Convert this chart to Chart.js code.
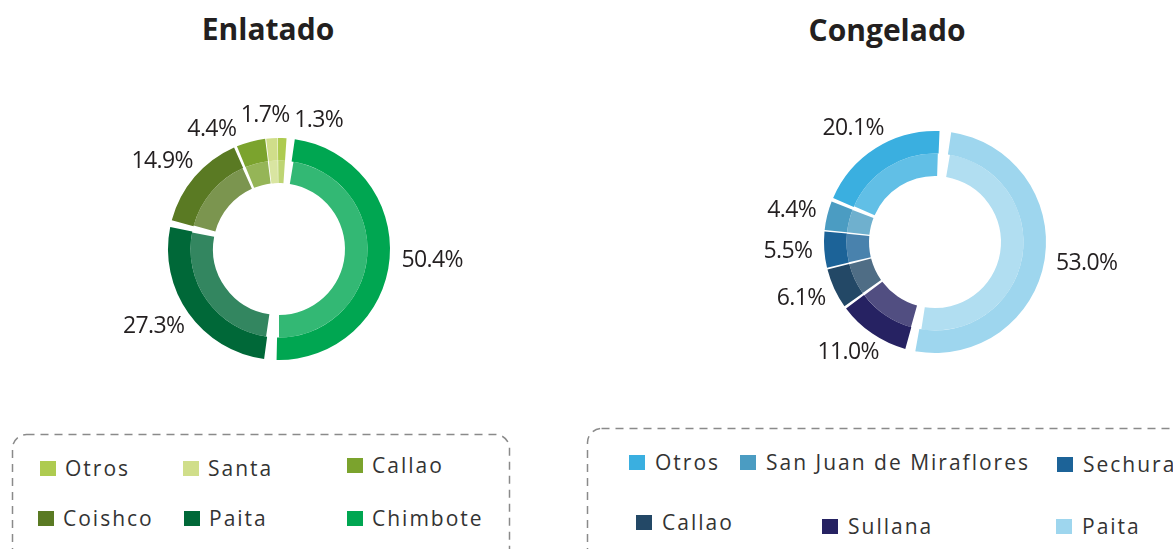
<!DOCTYPE html>
<html><head><meta charset="utf-8">
<script src="https://cdn.jsdelivr.net/npm/chart.js@4"></script>
<style>
html,body{margin:0;padding:0;background:#fff;}
body{width:1173px;height:549px;position:relative;overflow:hidden;font-family:"Open Sans",sans-serif;color:#231f20;}
.title{position:absolute;font-weight:700;font-size:30px;line-height:36px;transform:translateX(-50%);white-space:nowrap;color:#231f20;}
.cv{position:absolute;}
.box{position:absolute;left:0;top:0;}
.item{position:absolute;display:flex;align-items:center;white-space:nowrap;line-height:16px;height:16px;color:#333;font-size:21px;letter-spacing:2px;}
.item span{margin-left:9px}
.sw{width:16px;height:15px;flex:none;}
#legL .item:nth-child(1){left:40px;top:460px}
#legL .item:nth-child(2){left:183px;top:460px}
#legL .item:nth-child(3){left:347px;top:457px}
#legL .item:nth-child(4){left:38px;top:510px}
#legL .item:nth-child(5){left:184px;top:510px}
#legL .item:nth-child(6){left:347px;top:510px}
#legR .item:nth-child(1){left:629px;top:454px}
#legR .item:nth-child(2){left:740px;top:454px}
#legR .item:nth-child(3){left:1057px;top:456px}
#legR .item:nth-child(4){left:636px;top:514px}
#legR .item:nth-child(5){left:822px;top:518px}
#legR .item:nth-child(6){left:1056px;top:518px}
#legR .item span{margin-left:10px}
</style></head>
<body>
<div class="title" style="left:268px;top:11px">Enlatado</div>
<div class="title" style="left:887px;top:12px">Congelado</div>
<svg class="box" width="1173" height="549">
  <rect x="12.5" y="434.5" width="497" height="140" rx="14" ry="14" fill="none" stroke="#8a8a8a" stroke-width="1.5" stroke-dasharray="8 6"/>
  <rect x="587.5" y="428.5" width="640" height="140" rx="14" ry="14" fill="none" stroke="#8a8a8a" stroke-width="1.5" stroke-dasharray="8 6"/>
</svg>
<canvas id="cL" class="cv" width="460" height="360" style="left:49px;top:69px;width:460px;height:360px"></canvas>
<canvas id="cR" class="cv" width="460" height="360" style="left:705px;top:62px;width:460px;height:360px"></canvas>
<div id="legL"></div>
<div id="legR"></div>
<script>
// ---- Data (legend order) ----
const enlatadoCategories = ["Otros", "Santa", "Callao", "Coishco", "Paita", "Chimbote"];
const enlatadoValues = [1.3, 1.7, 4.4, 14.9, 27.3, 50.4];
const enlatadoColors = ["#AECB50", "#D0DE8A", "#7BA32D", "#5A7A23", "#006838", "#00A651"];

const congeladoCategories = ["Otros", "San Juan de Miraflores", "Sechura", "Callao", "Sullana", "Paita"];
const congeladoValues = [20.1, 4.4, 5.5, 6.1, 11.0, 53.0];
const congeladoColors = ["#3AAFE0", "#4B9CC2", "#1C6398", "#234866", "#262262", "#9ED6EE"];

const GAP = 9;          // pixel gap between slices
const OUTER_R = 111;    // visible outer radius
const INNER_R = 66;     // visible hole radius

function mix(hex, t) {
  const n = parseInt(hex.slice(1), 16);
  const r = n >> 16, g = (n >> 8) & 255, b = n & 255;
  const f = c => Math.round(c + (255 - c) * t);
  return `rgb(${f(r)},${f(g)},${f(b)})`;
}

const outLabels = {
  id: 'outLabels',
  afterDatasetsDraw(chart, args, opts) {
    const meta = chart.getDatasetMeta(0);
    const vals = chart.data.datasets[0].data;
    const ctx = chart.ctx;
    ctx.save();
    ctx.font = opts.font;
    if ('letterSpacing' in ctx) ctx.letterSpacing = opts.letterSpacing;
    ctx.fillStyle = opts.color;
    ctx.textAlign = 'center';
    ctx.textBaseline = 'middle';
    const items = meta.data.map((arc, i) => {
      const p = arc.getProps(['x', 'y', 'startAngle', 'endAngle', 'outerRadius'], true);
      const text = vals[i].toFixed(1) + '%';
      return { text, w: ctx.measureText(text).width, h: opts.lineHeight,
        a: (p.startAngle + p.endAngle) / 2, cx: p.x, cy: p.y, r: p.outerRadius + GAP / 2 + opts.pad };
    });
    const place = it => {
      const c = Math.cos(it.a), s = Math.sin(it.a);
      it.x = it.cx + c * it.r + c * it.w / 2;
      it.y = it.cy + s * it.r + s * it.h / 2;
    };
    items.forEach(place);
    const overlap = (a, b) => Math.abs(a.x - b.x) < (a.w + b.w) / 2 + 4 && Math.abs(a.y - b.y) < (a.h + b.h) / 2 + 2;
    for (let iter = 0; iter < 600; iter++) {
      let moved = false;
      for (let i = 0; i < items.length; i++) {
        const a = items[i], b = items[(i + 1) % items.length];
        if (overlap(a, b)) { a.a -= 0.004; b.a += 0.004; place(a); place(b); moved = true; }
      }
      if (!moved) break;
    }
    items.forEach(it => ctx.fillText(it.text, it.x, it.y));
    ctx.restore();
  }
};

function makeChart(id, cats, vals, colors) {
  const order = cats.map((_, i) => i).reverse();
  const data = order.map(i => vals[i]);
  // Chart.js pushes arcs outward by spacing/2, so compensate
  const rCalc = OUTER_R - GAP / 2;
  const area = 2 * rCalc + GAP;
  const padX = (460 - area) / 2, padY = (360 - area) / 2;
  const cutout = ((INNER_R - GAP / 2) / rCalc * 100).toFixed(2) + '%';
  return new Chart(document.getElementById(id), {
    type: 'doughnut',
    data: {
      labels: order.map(i => cats[i]),
      datasets: [
        { data, backgroundColor: order.map(i => colors[i]), borderWidth: 0, spacing: GAP, hoverOffset: 0, offset: 0 },
        { data, backgroundColor: order.map(i => mix(colors[i], 0.2)), borderWidth: 0, spacing: GAP, hoverOffset: 0, offset: 0 }
      ]
    },
    options: {
      responsive: false,
      animation: false,
      events: [],
      rotation: 4,
      cutout,
      spacing: GAP,
      layout: { padding: { left: padX, right: padX, top: padY, bottom: padY } },
      plugins: {
        legend: { display: false },
        tooltip: { enabled: false },
        outLabels: { font: '23px "Open Sans"', letterSpacing: '-0.6px', color: '#231f20', lineHeight: 22, pad: 12 }
      }
    },
    plugins: [outLabels]
  });
}

makeChart('cL', enlatadoCategories, enlatadoValues, enlatadoColors);
makeChart('cR', congeladoCategories, congeladoValues, congeladoColors);

function buildLegend(id, cats, colors) {
  const el = document.getElementById(id);
  cats.forEach((c, i) => {
    const it = document.createElement('div');
    it.className = 'item';
    const sw = document.createElement('div');
    sw.className = 'sw';
    sw.style.background = colors[i];
    const t = document.createElement('span');
    t.textContent = c;
    it.appendChild(sw); it.appendChild(t);
    el.appendChild(it);
  });
}
buildLegend('legL', enlatadoCategories, enlatadoColors);
buildLegend('legR', congeladoCategories, congeladoColors);
</script>
</body></html>
